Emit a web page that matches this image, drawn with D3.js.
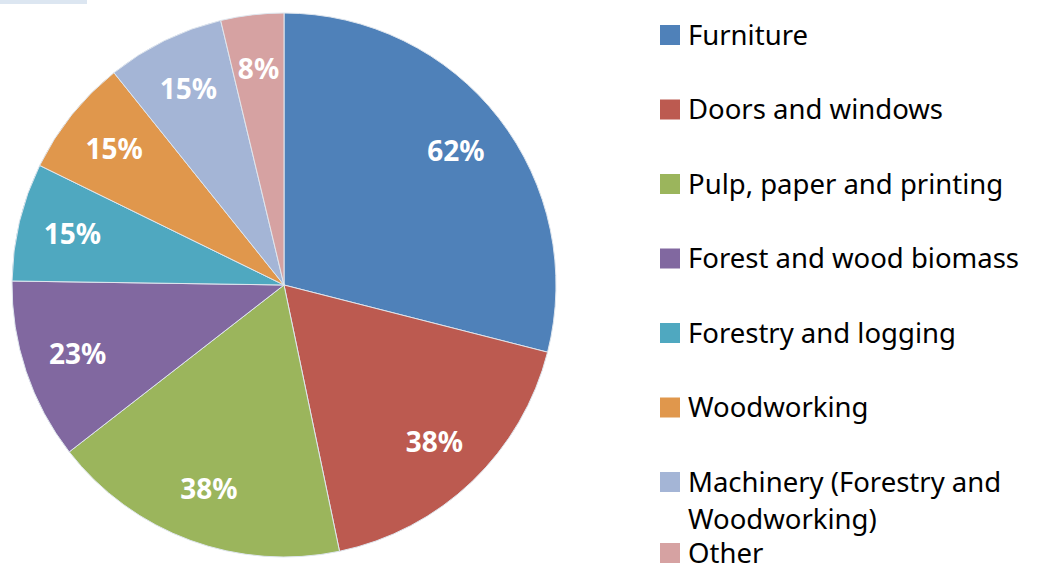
<!DOCTYPE html>
<html>
<head>
<meta charset="utf-8">
<script src="https://cdn.jsdelivr.net/npm/d3@7"></script>
<style>
  html, body { margin: 0; padding: 0; background: #fff; }
  svg { display: block; }
</style>
</head>
<body>
<div id="chart"></div>
<script>
// DATA ______________________________________________________________
const CATEGORIES = [
    'Furniture',
    'Doors and windows',
    'Pulp, paper and printing',
    'Forest and wood biomass',
    'Forestry and logging',
    'Woodworking',
    'Machinery (Forestry and Woodworking)',
    'Other'
];
const VALUES = [62, 38, 38, 23, 15, 15, 15, 8];
const LABELS = ['62%', '38%', '38%', '23%', '15%', '15%', '15%', '8%'];
// legend text broken into lines as in the original
const LEGEND_LINES = [
    ['Furniture'],
    ['Doors and windows'],
    ['Pulp, paper and printing'],
    ['Forest and wood biomass'],
    ['Forestry and logging'],
    ['Woodworking'],
    ['Machinery (Forestry and', 'Woodworking)'],
    ['Other']
];
const COLORS = ['#4f81b9', '#bc5a50', '#9bb55c', '#8168a0', '#4fa8c0', '#e0974c', '#a4b5d6', '#d6a2a2'];
//____________________________________________________________________

const W = 1045, H = 570;
const CX = 284, CY = 285, R = 272;
const FONT = '"Noto Sans", "Open Sans", sans-serif';

const svg = d3.select('#chart').append('svg')
    .attr('width', W)
    .attr('height', H);

// little tab left over at the top-left corner
svg.append('rect')
    .attr('x', 0).attr('y', 0)
    .attr('width', 87).attr('height', 4)
    .attr('fill', '#dce6f1');

// Pie ---------------------------------------------------------------
const data = CATEGORIES.map(function(c, i) {
    return {name: c, value: VALUES[i], label: LABELS[i], color: COLORS[i]};
});

const pie = d3.pie().sort(null).value(function(d) { return d.value; });
const arc = d3.arc().innerRadius(0).outerRadius(R);
const labelArc = d3.arc().innerRadius(R * 0.8).outerRadius(R * 0.8);

const g = svg.append('g').attr('transform', `translate(${CX},${CY})`);

const arcs = pie(data);

g.selectAll('path.slice')
    .data(arcs)
    .enter()
    .append('path')
    .attr('class', 'slice')
    .attr('d', arc)
    .attr('fill', function(d) { return d.data.color; })
    .attr('stroke', '#dfe6ee')
    .attr('stroke-width', 1);

g.selectAll('text.label')
    .data(arcs)
    .enter()
    .append('text')
    .attr('class', 'label')
    .attr('transform', function(d) { return `translate(${labelArc.centroid(d)})`; })
    .attr('text-anchor', 'middle')
    .attr('dy', '0.35em')
    .attr('fill', '#fff')
    .attr('font-family', FONT)
    .attr('font-weight', 'bold')
    .attr('font-size', '28px')
    .text(function(d) { return d.data.label; });
//--------------------------------------------------------------------

// Legend ------------------------------------------------------------
const legendY = d3.scalePoint()
    .domain(d3.range(7))
    .range([35, 482]);
const LINE_H = 37;

const legend = svg.append('g');
const items = legend.selectAll('g.item')
    .data(data)
    .enter()
    .append('g')
    .attr('class', 'item')
    .attr('transform', function(d, i) {
        const y = i < 7 ? legendY(i) : legendY(6) + LINE_H * 2 - 3;
        return `translate(660,${y})`;
    });

items.append('rect')
    .attr('x', 0)
    .attr('y', -10)
    .attr('width', 20)
    .attr('height', 20)
    .attr('fill', function(d) { return d.color; });

items.append('text')
    .attr('x', 28)
    .attr('font-family', FONT)
    .attr('font-size', '27.5px')
    .attr('fill', '#000')
    .selectAll('tspan')
    .data(function(d, i) { return LEGEND_LINES[i]; })
    .enter()
    .append('tspan')
    .attr('x', 28)
    .attr('y', function(d, j) { return j * LINE_H; })
    .attr('dy', '0.35em')
    .text(function(d) { return d; });
//--------------------------------------------------------------------
</script>
</body>
</html>
